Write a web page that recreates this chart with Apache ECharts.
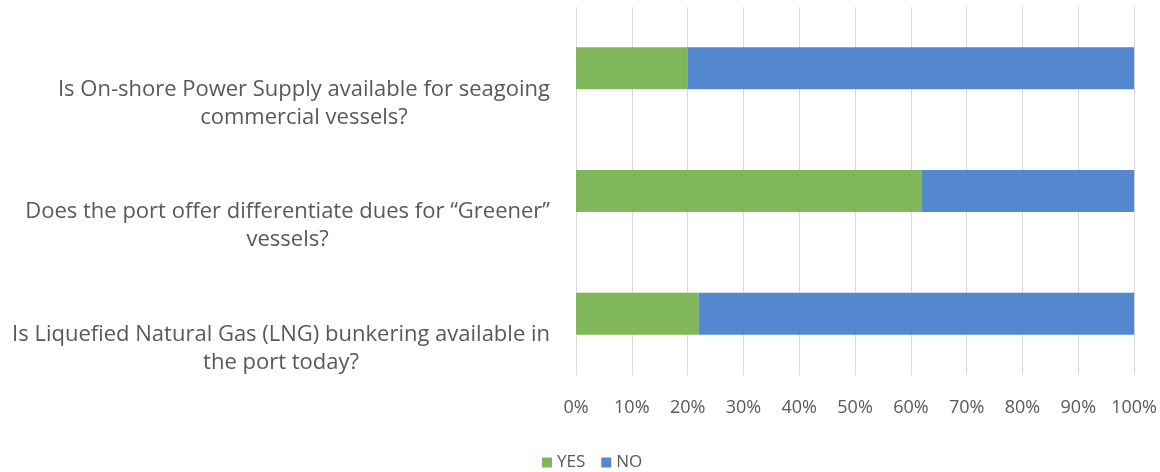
<!DOCTYPE html>
<html>
<head>
<meta charset="utf-8">
<script src="https://cdn.jsdelivr.net/npm/echarts@6/dist/echarts.min.js"></script>
<style>html,body{margin:0;padding:0;background:#fff;}#c{width:1160px;height:472px;}</style>
</head>
<body>
<div id="c"></div>
<script>
// Categories, bottom to top (ECharts category axis order)
const categories = [
  'Is Liquefied Natural Gas (LNG) bunkering available in\nthe port today?',
  'Does the port offer differentiate dues for \u201cGreener\u201d\nvessels?',
  'Is On-shore Power Supply available for seagoing\ncommercial vessels?'
];
const yesValues = [22, 62, 20];
const noValues = [78, 38, 80];
const seriesNames = ['YES', 'NO'];
const xTickFormat = '{value}%';

const FONT = '"Open Sans", sans-serif';
const chart = echarts.init(document.getElementById('c'), null, {renderer: 'canvas'});
chart.setOption({
  animation: false,
  color: ['#80B75B', '#5388CF'],
  grid: {left: 576, right: 25, top: 7, bottom: 97, containLabel: false},
  legend: {
    data: seriesNames,
    top: 449,
    left: 537,
    itemWidth: 10,
    itemHeight: 10,
    itemGap: 16,
    icon: 'rect',
    textStyle: {color: '#595959', fontSize: 17, fontFamily: FONT}
  },
  xAxis: {
    type: 'value',
    min: 0,
    max: 100,
    interval: 10,
    axisLine: {show: false},
    axisTick: {show: false},
    splitLine: {show: true, lineStyle: {color: '#d9d9d9', width: 1}},
    axisLabel: {formatter: xTickFormat, color: '#595959', fontSize: 18, fontFamily: FONT, margin: 24}
  },
  yAxis: {
    type: 'category',
    data: categories,
    axisLine: {show: false},
    axisTick: {show: false},
    splitLine: {show: false},
    axisLabel: {
      margin: 26,
      align: 'right',
      verticalAlign: 'top',
      padding: [7, 0, 0, 0],
      formatter: function (v) { return v.split('\n').map(function (l) { return '{c|' + l + '}'; }).join('\n'); },
      rich: {c: {align: 'center', fontSize: 22, lineHeight: 28, color: '#595959', fontFamily: FONT}}
    }
  },
  series: [
    {name: seriesNames[0], type: 'bar', stack: 'total', barWidth: 42, data: yesValues},
    {name: seriesNames[1], type: 'bar', stack: 'total', barWidth: 42, data: noValues}
  ]
});
</script>
</body>
</html>
